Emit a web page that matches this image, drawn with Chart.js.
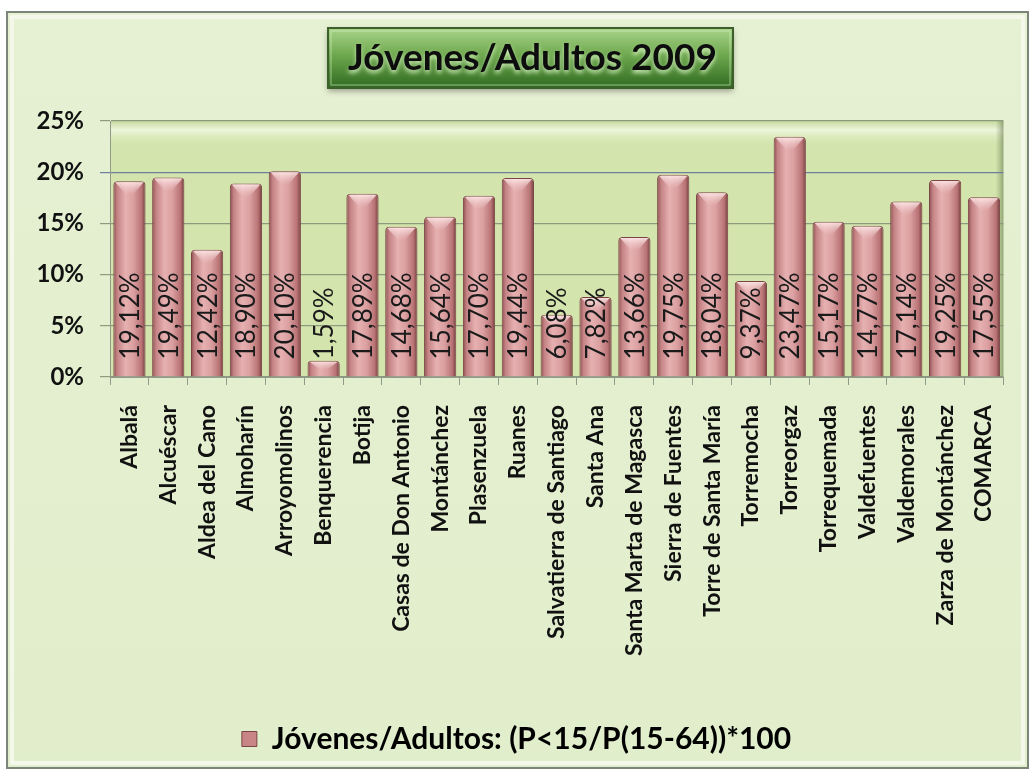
<!DOCTYPE html>
<html>
<head>
<meta charset="utf-8">
<script src="https://cdn.jsdelivr.net/npm/chart.js"></script>
<style>
  html, body { margin: 0; padding: 0; background: #ffffff; }
  #wrap { width: 1032px; height: 777px; position: relative; }
</style>
</head>
<body>
<div id="wrap"><canvas id="jovenesChart"></canvas></div>
<script>
const chartTitle = "Jóvenes/Adultos 2009";
const seriesLabel = "Jóvenes/Adultos: (P<15/P(15-64))*100";

const municipios = [
    "Albalá", "Alcuéscar", "Aldea del Cano", "Almoharín", "Arroyomolinos",
    "Benquerencia", "Botija", "Casas de Don Antonio", "Montánchez", "Plasenzuela",
    "Ruanes", "Salvatierra de Santiago", "Santa Ana", "Santa Marta de Magasca",
    "Sierra de Fuentes", "Torre de Santa María", "Torremocha", "Torreorgaz",
    "Torrequemada", "Valdefuentes", "Valdemorales", "Zarza de Montánchez", "COMARCA"
];
const ratios = [
    19.12, 19.49, 12.42, 18.90, 20.10,
    1.59, 17.89, 14.68, 15.64, 17.70,
    19.44, 6.08, 7.82, 13.66,
    19.75, 18.04, 9.37, 23.47,
    15.17, 14.77, 17.14, 19.25, 17.55
];
const yTicks = [0, 5, 10, 15, 20, 25];

const FONT = "Lato, 'Open Sans', sans-serif";

function fmtPct(v) {
    return v.toFixed(2).replace(".", ",") + "%";
}

// frame, plot background and the green title box with its text
const backdrop = {
    id: "backdrop",
    beforeDraw(chart) {
        const ctx = chart.ctx;
        const a = chart.chartArea;
        ctx.save();
        ctx.fillStyle = "#ffffff";
        ctx.fillRect(0, 0, chart.width, chart.height);

        // outer frame
        const fx = 7, fy = 12, fw = 1021, fh = 756;
        const bg = ctx.createLinearGradient(0, fy, 0, fy + fh);
        bg.addColorStop(0, "#e6f0d3");
        bg.addColorStop(1, "#e1eecb");
        ctx.fillStyle = bg;
        ctx.fillRect(fx, fy, fw, fh);
        ctx.strokeStyle = "#f4f8ea";
        ctx.lineWidth = 4;
        ctx.strokeRect(fx + 5, fy + 5, fw - 10, fh - 10);
        ctx.strokeStyle = "#7d8479";
        ctx.lineWidth = 2;
        ctx.strokeRect(fx, fy, fw, fh);

        // plot area (back wall)
        ctx.fillStyle = "#d3e5ad";
        ctx.fillRect(a.left, a.top, a.right - a.left, a.bottom - a.top);
        const band = ctx.createLinearGradient(0, a.top, 0, a.top + 26);
        band.addColorStop(0, "#c6da9f");
        band.addColorStop(0.35, "#eef5dc");
        band.addColorStop(1, "rgba(211,229,173,0)");
        ctx.fillStyle = band;
        ctx.fillRect(a.left, a.top, a.right - a.left, 26);
        const side = ctx.createLinearGradient(a.right - 8, 0, a.right, 0);
        side.addColorStop(0, "rgba(120,140,90,0)");
        side.addColorStop(1, "rgba(90,110,70,0.55)");
        ctx.fillStyle = side;
        ctx.fillRect(a.right - 8, a.top, 8, a.bottom - a.top);

        // title box
        const bx = 328, by = 28, bw = 405, bh = 60;
        ctx.shadowColor = "rgba(0,0,0,0.35)";
        ctx.shadowBlur = 6;
        ctx.shadowOffsetY = 3;
        const tg = ctx.createLinearGradient(0, by, 0, by + bh);
        tg.addColorStop(0, "#a9d48a");
        tg.addColorStop(0.45, "#6ea84e");
        tg.addColorStop(1, "#2f6a20");
        ctx.fillStyle = tg;
        ctx.fillRect(bx, by, bw, bh);
        ctx.shadowColor = "transparent";
        ctx.strokeStyle = "#3c5f2c";
        ctx.lineWidth = 2;
        ctx.strokeRect(bx, by, bw, bh);
        ctx.strokeStyle = "rgba(220,245,200,0.6)";
        ctx.lineWidth = 1;
        ctx.strokeRect(bx + 3, by + 3, bw - 6, bh - 6);

        // title text
        ctx.font = "bold 37px " + FONT;
        ctx.textAlign = "center";
        ctx.textBaseline = "middle";
        ctx.shadowColor = "rgba(230,255,210,0.8)";
        ctx.shadowBlur = 4;
        ctx.fillStyle = "#0d0d0d";
        ctx.fillText(chartTitle, bx + bw / 2 + 2, by + bh / 2);
        ctx.restore();
    }
};

// cylinder-like shading on the bars
const barShading = {
    id: "barShading",
    beforeDatasetsDraw(chart) {
        const ctx = chart.ctx;
        chart.getDatasetMeta(0).data.forEach((el) => {
            const p = el.getProps(["x", "width"], true);
            const g = ctx.createLinearGradient(p.x - p.width / 2, 0, p.x + p.width / 2, 0);
            g.addColorStop(0, "#8a4c4e");
            g.addColorStop(0.12, "#c48284");
            g.addColorStop(0.38, "#e6b0b1");
            g.addColorStop(0.62, "#dba0a1");
            g.addColorStop(0.88, "#b87274");
            g.addColorStop(1, "#6f3a3c");
            el.options.backgroundColor = g;
        });
    },
    afterDatasetsDraw(chart) {
        const ctx = chart.ctx;
        ctx.save();
        chart.getDatasetMeta(0).data.forEach((el, i) => {
            const p = el.getProps(["x", "y", "base", "width"], true);
            const l = p.x - p.width / 2, r = p.x + p.width / 2;
            const h = Math.min(14, (p.base - p.y) * 0.6);
            const cap = ctx.createLinearGradient(0, p.y, 0, p.y + h);
            cap.addColorStop(0, "rgba(255,235,235,0.95)");
            cap.addColorStop(1, "rgba(240,200,200,0)");
            ctx.fillStyle = cap;
            ctx.beginPath();
            ctx.moveTo(l + 2, p.y + 1);
            ctx.lineTo(r - 2, p.y + 1);
            ctx.lineTo(p.x + 3, p.y + h);
            ctx.lineTo(p.x - 3, p.y + h);
            ctx.closePath();
            ctx.fill();

            // value label, rotated, from near the base upward
            ctx.save();
            ctx.translate(p.x + 1, p.base - 17);
            ctx.rotate(-Math.PI / 2);
            ctx.font = "26px " + FONT;
            ctx.fillStyle = "#1a1a1a";
            ctx.textAlign = "left";
            ctx.textBaseline = "middle";
            ctx.fillText(fmtPct(ratios[i]), 0, 0);
            ctx.restore();
        });
        ctx.restore();
    }
};

const ctx = document.getElementById("jovenesChart").getContext("2d");
new Chart(ctx, {
    type: "bar",
    data: {
        labels: municipios,
        datasets: [
            {
                label: seriesLabel,
                data: ratios,
                // scriptable so every bar keeps its own options object
                backgroundColor: () => "#d99a9b",
                borderColor: "#7a4446",
                borderWidth: 1,
                borderRadius: { topLeft: 4, topRight: 4 },
                borderSkipped: "bottom",
                categoryPercentage: 1,
                barPercentage: 0.83,
            },
        ],
    },
    options: {
        responsive: true,
        maintainAspectRatio: false,
        animation: false,
        devicePixelRatio: 1,
        layout: { padding: { left: 20, right: 19, top: 121, bottom: 13 } },
        plugins: {
            title: { display: false },
            legend: {
                position: "bottom",
                labels: {
                    color: "#111111",
                    font: { family: FONT, size: 30, weight: "bold" },
                    boxWidth: 15,
                    boxHeight: 15,
                    padding: 10,
                    generateLabels: () => [{
                        text: seriesLabel,
                        fillStyle: "#c98486",
                        strokeStyle: "#7a4446",
                        lineWidth: 1,
                        datasetIndex: 0,
                    }],
                },
            },
            tooltip: { enabled: false },
        },
        scales: {
            x: {
                afterFit: (scale) => { scale.height = 337; },
                grid: {
                    drawOnChartArea: false,
                    color: "#8e9a8a",
                    tickLength: 8,
                    offset: true,
                },
                border: { color: "#8e9a8a" },
                ticks: {
                    minRotation: 90,
                    maxRotation: 90,
                    autoSkip: false,
                    padding: 20,
                    color: "#111111",
                    font: { family: FONT, size: 23, weight: "bold" },
                },
            },
            y: {
                min: 0,
                max: 25,
                afterFit: (scale) => { scale.width = 90; },
                afterBuildTicks: (scale) => {
                    scale.ticks = yTicks.map((v) => ({ value: v }));
                },
                grid: {
                    color: (c) => (c.tick && c.tick.value === 20 ? "#6f7fa0" : "#8e9a7e"),
                    lineWidth: 1.2,
                    tickLength: 10,
                },
                border: { color: "#8e9a8a" },
                ticks: {
                    padding: 16,
                    color: "#111111",
                    font: { family: FONT, size: 24, weight: "bold" },
                    callback: (v) => v + "%",
                },
            },
        },
    },
    plugins: [backdrop, barShading],
});
</script>
</body>
</html>
